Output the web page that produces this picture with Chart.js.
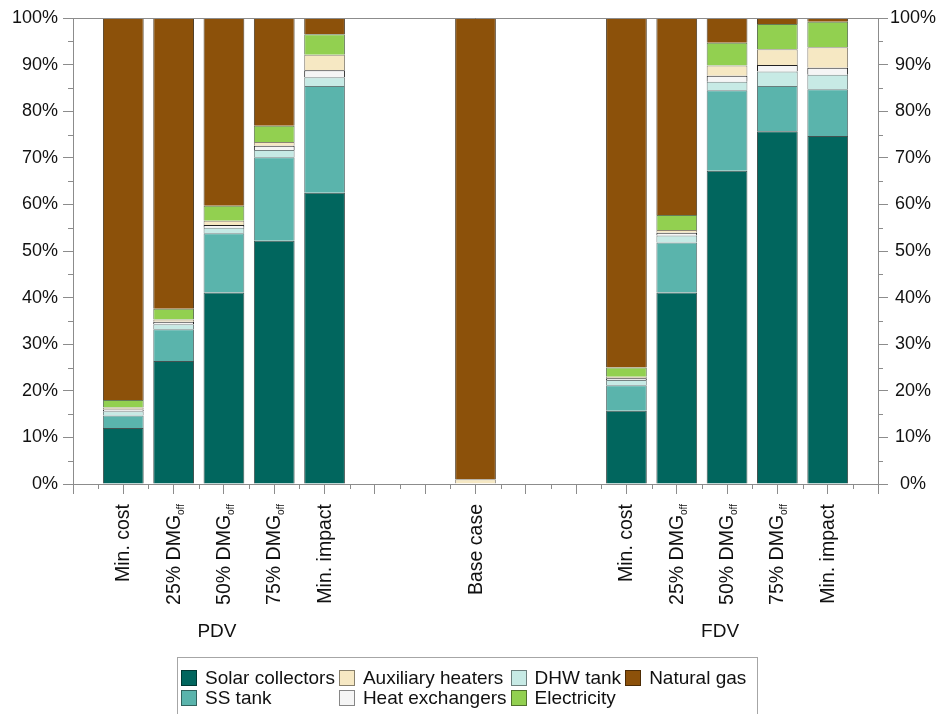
<!DOCTYPE html>
<html>
<head>
<meta charset="utf-8">
<title>Environmental impact breakdown</title>
<script src="https://cdn.jsdelivr.net/npm/chart.js@4.4.1/dist/chart.umd.min.js"></script>
<style>
  body { margin: 0; background: #fff; }
  #wrap { position: relative; width: 941px; height: 714px; overflow: hidden; }
  #legend {
    position: absolute; left: 177px; top: 657px; width: 581px; height: 80px;
    border: 1px solid #a6a6a6; box-sizing: border-box; padding: 10px 0 0 3px;
    display: grid; grid-template-rows: 20px 20px; grid-auto-flow: column;
    grid-auto-columns: max-content; column-gap: 4px;
    font: 19px "Liberation Sans", Arial, sans-serif; color: #111;
  }
  #legend .item { display: flex; align-items: center; white-space: nowrap; }
  #legend .sw { width: 14px; height: 14px; margin-right: 8px; border: 1px solid rgba(0,0,0,0.45); }
</style>
</head>
<body>
<div id="wrap">
  <canvas id="impactChart" width="941" height="714"></canvas>
  <div id="legend"></div>
</div>
<script>
// slots on the x axis; empty strings are spacer slots
const scenarios = ['', 'Min. cost', '25% DMG', '50% DMG', '75% DMG', 'Min. impact', '', '',
                   'Base case', '', '', 'Min. cost', '25% DMG', '50% DMG', '75% DMG', 'Min. impact', ''];
const subscripts = ['', '', 'off', 'off', 'off', '', '', '', '', '', '', '', 'off', 'off', 'off', '', ''];
const groupLabels = ['PDV', 'FDV'];
const groupSlots = [[1, 5], [11, 15]];

// share of total impact (%), stacked bottom to top
const solarCollectors = [null, 12.0, 26.4, 41.1, 52.2, 62.5, null, null, null, null, null, 15.7, 41.1, 67.2, 75.7, 74.7, null];
const ssTank          = [null, 2.7, 6.8, 12.7, 17.9, 22.9, null, null, null, null, null, 5.5, 10.7, 17.3, 9.7, 10.0, null];
const dhwTank         = [null, 0.9, 1.1, 1.2, 1.6, 1.9, null, null, null, null, null, 1.1, 1.5, 1.8, 3.1, 3.1, null];
const heatExchangers  = [null, 0.4, 0.5, 0.6, 0.9, 1.5, null, null, null, null, null, 0.4, 0.6, 1.3, 1.4, 1.5, null];
const auxHeaters      = [null, 0.4, 0.5, 0.9, 0.8, 3.3, null, null, 1.0, null, null, 0.3, 0.6, 2.2, 3.4, 4.4, null];
const electricity     = [null, 1.6, 2.3, 3.2, 3.5, 4.4, null, null, null, null, null, 2.0, 3.2, 4.9, 5.4, 5.5, null];
const naturalGas      = [null, 82.0, 62.4, 40.3, 23.1, 3.5, null, null, 99.0, null, null, 75.0, 42.3, 5.3, 1.3, 0.8, null];

const yTicks = [0, 10, 20, 30, 40, 50, 60, 70, 80, 90, 100];

const FONT = '"Liberation Sans", Arial, sans-serif';
const AXIS = '#8c8c8c';
const INK = '#111';

const series = [
  { label: 'Solar collectors', data: solarCollectors, color: '#01665e', edge: 'rgba(20,40,38,0.8)' },
  { label: 'SS tank', data: ssTank, color: '#5ab4ac', edge: 'rgba(40,70,68,0.7)' },
  { label: 'DHW tank', data: dhwTank, color: '#c7eae5', edge: 'rgba(60,80,78,0.7)' },
  { label: 'Heat exchangers', data: heatExchangers, color: '#f5f5f5', edge: '#222' },
  { label: 'Auxiliary heaters', data: auxHeaters, color: '#f6e8c3', edge: 'rgba(90,80,60,0.7)' },
  { label: 'Electricity', data: electricity, color: '#92d050', edge: 'rgba(50,80,30,0.75)' },
  { label: 'Natural gas', data: naturalGas, color: '#8c510a', edge: 'rgba(50,30,5,0.85)' }
];
// legend reads column by column, two rows
const legendOrder = [0, 1, 4, 3, 2, 5, 6];

Chart.defaults.font.family = FONT;
Chart.defaults.color = INK;

// minor ticks, top frame line, rotated category labels with subscripts, group names
const extras = {
  id: 'extras',
  afterDraw(chart) {
    const { ctx, chartArea: a, scales: { x, y } } = chart;
    ctx.save();
    ctx.strokeStyle = AXIS;
    ctx.lineWidth = 1;
    const seg = (x1, y1, x2, y2) => { ctx.beginPath(); ctx.moveTo(x1, y1); ctx.lineTo(x2, y2); ctx.stroke(); };

    seg(a.left, Math.round(a.top) + 0.5, a.right, Math.round(a.top) + 0.5);

    for (let i = 0; i < scenarios.length - 1; i++) {
      const px = Math.round((x.getPixelForValue(i) + x.getPixelForValue(i + 1)) / 2) + 0.5;
      seg(px, a.bottom, px, a.bottom + 5);
    }
    for (let v = 5; v < 100; v += 10) {
      const py = Math.round(y.getPixelForValue(v)) + 0.5;
      seg(a.left - 5, py, a.left, py);
      seg(a.right, py, a.right + 5, py);
    }

    ctx.fillStyle = INK;
    ctx.textBaseline = 'alphabetic';
    ctx.textAlign = 'left';
    scenarios.forEach((name, i) => {
      if (!name) return;
      const main = '19.5px ' + FONT, small = '10px ' + FONT;
      ctx.font = main;
      const mw = ctx.measureText(name).width;
      ctx.font = small;
      const sw = subscripts[i] ? ctx.measureText(subscripts[i]).width : 0;
      ctx.save();
      ctx.translate(x.getPixelForValue(i), a.bottom + 20);
      ctx.rotate(-Math.PI / 2);
      ctx.font = main;
      ctx.fillText(name, -(mw + sw), 6);
      if (sw) {
        ctx.font = small;
        ctx.fillText(subscripts[i], -sw, 10);
      }
      ctx.restore();
    });

    ctx.font = '19px ' + FONT;
    ctx.textAlign = 'center';
    groupLabels.forEach((g, k) => {
      const [s, e] = groupSlots[k];
      const cx = (x.getPixelForValue(s) + x.getPixelForValue(e)) / 2 - 7;
      ctx.fillText(g, cx, a.bottom + 153);
    });
    ctx.restore();
  }
};

const yAxis = (position, width) => ({
  position,
  stacked: position === 'left',
  min: 0,
  max: 100,
  afterBuildTicks: s => { s.ticks = yTicks.map(v => ({ value: v })); },
  ticks: {
    callback: v => v + '%',
    font: { size: 18 },
    color: INK,
    padding: position === 'left' ? 5 : 2,
    crossAlign: position === 'left' ? 'near' : 'center'
  },
  grid: { drawOnChartArea: false, tickLength: 10, color: AXIS },
  border: { color: AXIS },
  afterFit: s => { s.width = width; }
});

new Chart(document.getElementById('impactChart'), {
  type: 'bar',
  data: {
    labels: scenarios,
    datasets: series.map(s => ({
      label: s.label,
      data: s.data,
      backgroundColor: s.color,
      borderColor: s.edge,
      borderWidth: 1,
      categoryPercentage: 1,
      barPercentage: 0.81
    }))
  },
  plugins: [extras],
  options: {
    responsive: false,
    animation: false,
    layout: { padding: { top: 18, left: 0, right: 0, bottom: 0 } },
    plugins: { legend: { display: false }, tooltip: { enabled: false } },
    scales: {
      x: {
        stacked: true,
        offset: false,
        ticks: { display: false, autoSkip: false },
        grid: { offset: false, drawOnChartArea: false, tickLength: 10, color: AXIS },
        border: { color: AXIS },
        afterFit: s => { s.height = 230; }
      },
      y: yAxis('left', 73),
      y2: yAxis('right', 63)
    }
  }
});

// legend box
const legend = document.getElementById('legend');
legendOrder.forEach(i => {
  const item = document.createElement('div');
  item.className = 'item';
  const sw = document.createElement('span');
  sw.className = 'sw';
  sw.style.background = series[i].color;
  item.appendChild(sw);
  item.appendChild(document.createTextNode(series[i].label));
  legend.appendChild(item);
});
</script>
</body>
</html>
